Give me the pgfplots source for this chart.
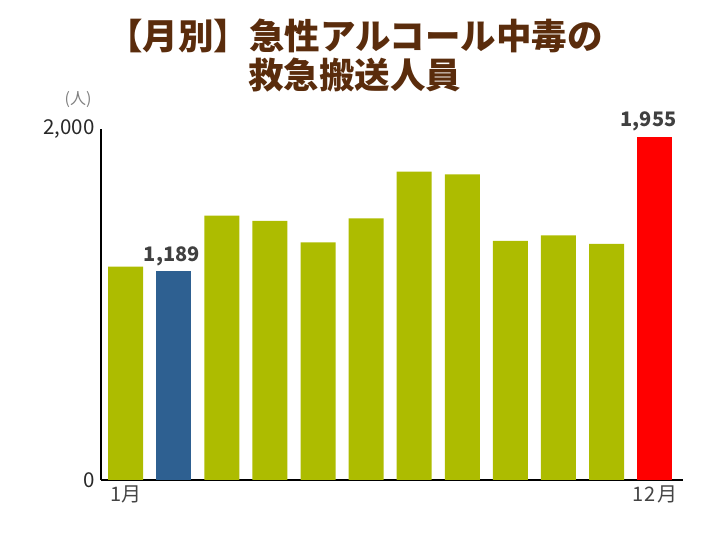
\documentclass[border=0pt]{standalone}
\usepackage{fontspec}
\setmainfont{Noto Sans CJK JP}
\usepackage{pgfplots}
\pgfplotsset{compat=1.18}
\definecolor{olive}{RGB}{173,188,0}
\definecolor{febblue}{RGB}{46,96,145}
\definecolor{titlebrown}{RGB}{90,44,12}
\definecolor{ticktext}{RGB}{40,40,40}
\definecolor{xtext}{RGB}{68,68,68}
\definecolor{labeltext}{RGB}{64,64,64}
\begin{document}
\begin{tikzpicture}
\path[use as bounding box] (-101pt,-65pt) rectangle (625pt,480pt);
\begin{axis}[
    at={(0pt,0pt)}, anchor=south west,
    scale only axis,
    width=582pt, height=351pt,
    xmin=0.487, xmax=12.59,
    ymin=0, ymax=2000,
    axis x line*=bottom, axis y line*=left,
    axis line style={black, line width=1.4pt},
    ybar, bar width=35pt, bar shift=0pt,
    xtick={1,12}, xticklabels={1月,1\kern1pt2\kern2pt月},
    ytick={0,2000},
    major tick length=0pt,
    tick label style={font=\fontsize{20.5}{24}\selectfont, text=ticktext},
    yticklabel style={xshift=-3pt},
    xticklabel style={yshift=-2pt, text=xtext, font=\fontsize{20}{24}\selectfont},
    /pgf/number format/.cd, 1000 sep={,}, assume math mode=true,
]
\addplot[fill=olive, draw=none] coordinates {
    (1,1216) (3,1506) (4,1477) (5,1354) (6,1491)
    (7,1757) (8,1742) (9,1362) (10,1394) (11,1345)};
\addplot[fill=febblue, draw=none,
    nodes near coords,
    every node near coord/.append style={font=\bfseries\fontsize{20}{24}\selectfont, text=labeltext, yshift=2pt, xshift=-2pt,
      /pgf/number format/1000 sep={,}, /pgf/number format/assume math mode=true}]
    coordinates {(2,1189)};
\addplot[fill=red, draw=none,
    nodes near coords,
    every node near coord/.append style={font=\bfseries\fontsize{20}{24}\selectfont, text=labeltext, yshift=2pt, xshift=-6pt,
      /pgf/number format/1000 sep={,}, /pgf/number format/assume math mode=true}]
    coordinates {(12,1955)};
\end{axis}
\node[text=titlebrown, font=\bfseries\fontsize{35.5}{39}\selectfont, align=center] at (254pt,424pt)
    {【月別】急性アルコール中毒の\\救急搬送人員};
\node[text=gray, font=\fontsize{16}{19}\selectfont] at (-23pt,380pt) {(人)};
\end{tikzpicture}
\end{document}
